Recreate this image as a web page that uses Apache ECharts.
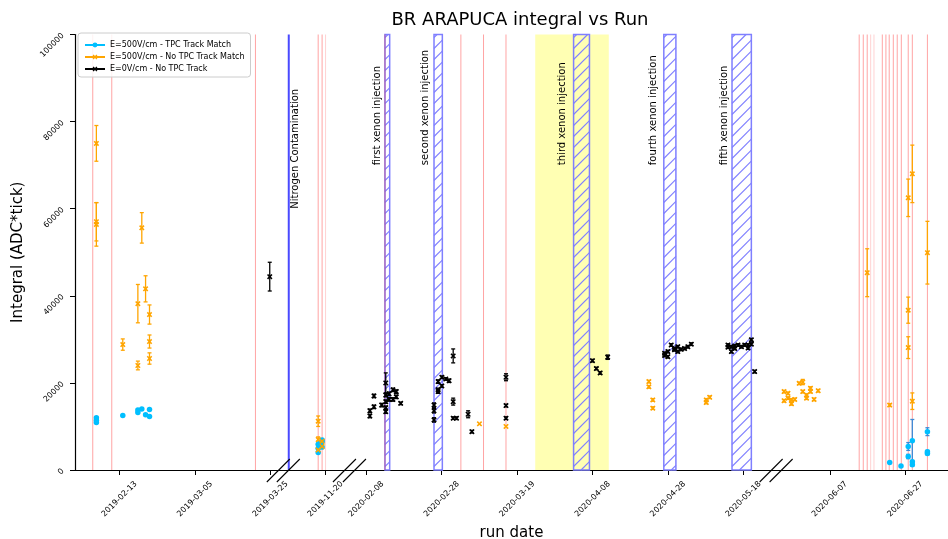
<!DOCTYPE html>
<html>
<head>
<meta charset="utf-8">
<title>BR ARAPUCA integral vs Run</title>
<script src="https://cdn.jsdelivr.net/npm/echarts@6/dist/echarts.min.js"></script>
<style>
  html, body { margin: 0; padding: 0; background: #fff; }
  #chart { width: 948px; height: 539px; }
</style>
</head>
<body>
<div id="chart"></div>
<script>
// ---- data: [run time (UTC, "YYYY-MM-DD HH"), integral (ADC*tick), error] ----
const trackMatch500 = [
  ['2019-02-06 21', 12000, 0], ['2019-02-06 21', 11400, 0], ['2019-02-06 21', 10900, 0],
  ['2019-02-13 21', 12500, 0],
  ['2019-02-17 21', 13800, 0], ['2019-02-17 21', 13200, 0],
  ['2019-02-18 22', 14000, 0],
  ['2019-02-19 22', 12700, 0],
  ['2019-02-20 23', 13900, 0], ['2019-02-20 23', 12300, 0],
  ['2019-11-18 01', 4000, 0], ['2019-11-18 01', 5000, 0], ['2019-11-18 01', 5900, 0],
  ['2019-11-18 14', 6100, 0],
  ['2019-11-19 02', 5300, 0], ['2019-11-19 02', 6500, 0], ['2019-11-19 02', 6900, 0],
  ['2020-06-22 21', 1700, 0],
  ['2020-06-25 21', 900, 0],
  ['2020-06-27 19', 5400, 900], ['2020-06-27 19', 3100, 500],
  ['2020-06-28 21', 6700, 4900], ['2020-06-28 21', 1900, 300], ['2020-06-28 21', 1200, 300],
  ['2020-07-02 21', 8800, 900], ['2020-07-02 21', 4200, 300], ['2020-07-02 21', 3800, 300]
];

const noTrack500 = [
  ['2019-02-06 21', 75000, 4100], ['2019-02-06 21', 57000, 4400], ['2019-02-06 21', 56400, 5000],
  ['2019-02-13 21', 28800, 1300],
  ['2019-02-17 21', 38200, 4400], ['2019-02-17 21', 24000, 1000],
  ['2019-02-18 22', 55600, 3500],
  ['2019-02-19 22', 41600, 3000],
  ['2019-02-20 23', 35700, 2200], ['2019-02-20 23', 29500, 1500], ['2019-02-20 23', 25600, 1300],
  ['2019-11-18 01', 11200, 1200], ['2019-11-18 01', 7000, 600], ['2019-11-18 01', 4600, 400],
  ['2019-11-19 02', 5400, 500], ['2019-11-19 02', 6600, 400],
  ['2020-03-09 00', 10600, 0],
  ['2020-03-16 01', 10000, 0],
  ['2020-04-22 22', 20300, 300], ['2020-04-22 22', 19100, 300],
  ['2020-04-23 23', 16100, 300], ['2020-04-23 23', 14200, 300],
  ['2020-05-08 03', 16100, 300], ['2020-05-08 03', 15500, 300],
  ['2020-05-09 01', 16700, 300],
  ['2020-05-25 21', 18000, 300], ['2020-05-25 21', 15900, 300],
  ['2020-05-26 22', 17600, 300], ['2020-05-26 22', 16500, 300],
  ['2020-05-27 20', 16100, 300], ['2020-05-27 20', 15200, 300],
  ['2020-05-28 17', 16200, 300],
  ['2020-05-29 21', 19900, 300],
  ['2020-05-30 20', 20200, 600], ['2020-05-30 20', 18000, 300],
  ['2020-05-31 20', 17200, 300], ['2020-05-31 20', 16500, 300],
  ['2020-06-01 21', 18800, 300], ['2020-06-01 21', 18000, 300],
  ['2020-06-02 20', 16200, 300],
  ['2020-06-03 22', 18200, 300],
  ['2020-06-16 22', 45300, 5500],
  ['2020-06-22 21', 14900, 300],
  ['2020-06-27 19', 62500, 4300], ['2020-06-27 19', 36700, 3000], ['2020-06-27 19', 28100, 2500],
  ['2020-06-28 21', 68000, 6600], ['2020-06-28 21', 15800, 1900],
  ['2020-07-02 21', 49900, 7200]
];

const zeroField = [
  ['2019-03-24 20', 44400, 3300],
  ['2020-02-08 23', 13600, 400], ['2020-02-08 23', 12400, 400],
  ['2020-02-10 01', 17000, 400], ['2020-02-10 01', 14500, 400],
  ['2020-02-12 02', 14900, 400],
  ['2020-02-13 04', 20000, 2300], ['2020-02-13 04', 17200, 400], ['2020-02-13 04', 15700, 400],
  ['2020-02-13 04', 14300, 400], ['2020-02-13 04', 13400, 400],
  ['2020-02-14 01', 17500, 400], ['2020-02-14 01', 16200, 400],
  ['2020-02-15 02', 18400, 400], ['2020-02-15 02', 16200, 400],
  ['2020-02-15 23', 18000, 400], ['2020-02-15 23', 16800, 400],
  ['2020-02-17 03', 15300, 300],
  ['2020-02-25 23', 14900, 500], ['2020-02-25 23', 13600, 500], ['2020-02-25 23', 11500, 500],
  ['2020-02-27 01', 20300, 400], ['2020-02-27 01', 18400, 400], ['2020-02-27 01', 18000, 400],
  ['2020-02-28 01', 21300, 300], ['2020-02-28 01', 19300, 300],
  ['2020-02-29 02', 20900, 300],
  ['2020-02-29 23', 20500, 400],
  ['2020-03-02 01', 26200, 1600], ['2020-03-02 01', 15700, 800], ['2020-03-02 01', 11900, 300],
  ['2020-03-02 22', 11900, 300],
  ['2020-03-06 00', 12800, 800],
  ['2020-03-07 00', 8800, 300],
  ['2020-03-16 01', 21300, 800], ['2020-03-16 01', 14800, 300], ['2020-03-16 01', 11900, 300],
  ['2020-04-07 23', 25100, 300],
  ['2020-04-09 00', 23300, 300],
  ['2020-04-10 00', 22300, 300],
  ['2020-04-12 00', 25900, 500],
  ['2020-04-27 02', 26800, 300], ['2020-04-27 02', 26300, 300],
  ['2020-04-27 23', 26000, 300], ['2020-04-27 23', 27200, 300],
  ['2020-04-28 20', 28700, 300],
  ['2020-04-29 17', 27900, 300], ['2020-04-29 17', 27600, 300],
  ['2020-04-30 14', 28300, 300], ['2020-04-30 14', 27200, 300],
  ['2020-05-01 12', 27700, 300],
  ['2020-05-02 09', 27900, 300],
  ['2020-05-03 06', 28300, 300],
  ['2020-05-04 04', 28900, 300],
  ['2020-05-13 21', 28700, 300], ['2020-05-13 21', 28200, 300],
  ['2020-05-14 19', 28300, 300], ['2020-05-14 19', 27200, 300],
  ['2020-05-15 16', 27900, 300], ['2020-05-15 16', 28500, 300],
  ['2020-05-16 13', 28700, 300],
  ['2020-05-17 11', 28300, 300],
  ['2020-05-18 08', 28700, 300],
  ['2020-05-19 05', 28700, 300], ['2020-05-19 05', 28000, 300],
  ['2020-05-20 02', 29900, 300], ['2020-05-20 02', 28900, 300],
  ['2020-05-20 23', 22600, 300]
];

// run markers, periods and notes
const runLines = ['2019-02-05 22', '2019-02-10 23', '2019-03-21 01', '2019-11-18 01', '2019-11-19 02',
  '2020-02-12 23', '2020-03-04 02', '2020-03-10 02', '2020-03-16 01',
  '2020-06-14 19', '2020-06-15 21', '2020-06-16 22', '2020-06-20 22', '2020-06-21 21', '2020-06-22 18',
  '2020-06-23 20', '2020-06-24 21', '2020-06-25 23', '2020-06-27 19', '2020-06-28 21', '2020-07-02 21'];
const faintRunLines = ['2019-11-20 00', '2020-06-17 20', '2020-06-18 17'];
const nitrogenTime = '2019-03-29 21';
const xenonPeriods = [
  ['2020-02-12 23', '2020-02-14 05'],
  ['2020-02-25 23', '2020-02-28 04'],
  ['2020-04-02 23', '2020-04-07 04'],
  ['2020-04-26 21', '2020-04-30 02'],
  ['2020-05-14 23', '2020-05-20 02']
];
const yellowPeriod = ['2020-03-23 19', '2020-04-12 07'];
const notes = [
  ['2019-03-31 18', 60000, 'Nitrogen Contamination'],
  ['2020-02-10 22', 70000, 'first xenon injection'],
  ['2020-02-23 19', 70000, 'second xenon injection'],
  ['2020-03-30 22', 70000, 'third xenon injection'],
  ['2020-04-24 04', 70000, 'fourth xenon injection'],
  ['2020-05-13 00', 70000, 'fifth xenon injection']
];
const tickLabels = ['2019-02-13', '2019-03-05', '2019-03-25', '2019-11-20', '2020-02-08', '2020-02-28',
  '2020-03-19', '2020-04-08', '2020-04-28', '2020-05-18', '2020-06-07', '2020-06-27'];

// ---- broken time axis: each segment maps real time onto a compressed day scale ----
const DAY = 86400000;
function parseTime(s) {
  const [d, h] = s.split(' ');
  const [Y, M, D] = d.split('-').map(Number);
  return Date.UTC(Y, M - 1, D) + (h ? Number(h) : 0) * 3600000;
}
const axisSegments = [
  { from: '2019-01-01', anchor: '2019-02-13', at: 0 },
  { from: '2019-10-01', anchor: '2019-11-20', at: 54.63 },
  { from: '2020-02-01', anchor: '2020-02-08', at: 65.42 },
  { from: '2020-05-22', anchor: '2020-06-07', at: 188.3 }
];
function toAxis(s) {
  const t = parseTime(s);
  let seg = axisSegments[0];
  for (const g of axisSegments) if (t >= parseTime(g.from)) seg = g;
  return seg.at + (t - parseTime(seg.anchor)) / DAY;
}
const axisBreaks = [43.56, 61.09, 174.2];
const xMin = toAxis('2019-02-01 05');
const xMax = toAxis('2020-07-08 08');
const tickValues = tickLabels.map(toAxis);

const FONT = '"DejaVu Sans", "Liberation Sans", sans-serif';
const BLUE = '#00bfff', ORANGE = '#ffa500', BLACK = '#000000';
// filled "x" marker
const X_MARK = 'path://M0,2L2,0L5,3L8,0L10,2L7,5L10,8L8,10L5,7L2,10L0,8L3,5Z';

function pointSeries(name, rows, color, symbol, size) {
  return {
    name, type: 'line', data: rows.map(r => [toAxis(r[0]), r[1]]),
    symbol, symbolSize: size, showSymbol: true, showAllSymbol: true,
    lineStyle: { opacity: 0, width: 2, color },
    itemStyle: { color, opacity: 1 },
    emphasis: { disabled: true },
    z: 6, silent: true
  };
}

function errorSeries(rows, color) {
  return {
    type: 'custom', z: 5, silent: true,
    data: rows.filter(r => r[2] > 0).map(r => [toAxis(r[0]), r[1] - r[2], r[1] + r[2]]),
    renderItem(params, api) {
      const x = api.value(0);
      const top = api.coord([x, api.value(2)]);
      const bot = api.coord([x, api.value(1)]);
      const c = 2;
      const st = { stroke: color, lineWidth: 1.3 };
      return { type: 'group', children: [
        { type: 'line', shape: { x1: top[0], y1: top[1], x2: bot[0], y2: bot[1] }, style: st },
        { type: 'line', shape: { x1: top[0] - c, y1: top[1], x2: top[0] + c, y2: top[1] }, style: st },
        { type: 'line', shape: { x1: bot[0] - c, y1: bot[1], x2: bot[0] + c, y2: bot[1] }, style: st }
      ] };
    }
  };
}

function vlineSeries(times, color, width, z) {
  return {
    type: 'custom', z, silent: true,
    data: times.map(t => [toAxis(t)]),
    renderItem(params, api) {
      const a = api.coord([api.value(0), 100000]);
      const b = api.coord([api.value(0), 0]);
      return { type: 'line', shape: { x1: a[0], y1: a[1], x2: b[0], y2: b[1] },
        style: { stroke: color, lineWidth: width } };
    }
  };
}

const option = {
  animation: false,
  backgroundColor: '#ffffff',
  textStyle: { fontFamily: FONT },
  title: {
    text: 'BR ARAPUCA integral vs Run', left: 515, top: 6, textAlign: 'center',
    textStyle: { fontFamily: FONT, fontSize: 18, fontWeight: 'normal', color: '#000' }
  },
  legend: {
    left: 78, top: 33, orient: 'vertical',
    itemWidth: 20, itemHeight: 6, itemGap: 4, padding: [8, 6, 4, 6],
    borderColor: '#cccccc', borderWidth: 1, borderRadius: 3,
    backgroundColor: 'rgba(255,255,255,0.85)',
    textStyle: { fontFamily: FONT, fontSize: 8, color: '#000' },
    lineStyle: { opacity: 1, width: 2 },
    data: ['E=500V/cm - TPC Track Match', 'E=500V/cm - No TPC Track Match', 'E=0V/cm - No TPC Track']
  },
  grid: { left: 75, right: 0, top: 34.5, bottom: 69, containLabel: false, outerBoundsMode: 'none' },
  xAxis: {
    type: 'value', min: xMin, max: xMax,
    name: 'run date', nameLocation: 'middle', nameGap: 43,
    nameTextStyle: { fontFamily: FONT, fontSize: 15, color: '#000' },
    splitLine: { show: false },
    axisLine: { onZero: false, lineStyle: { color: '#000', width: 1.2 } },
    axisTick: { customValues: tickValues, length: 5, lineStyle: { color: '#000', width: 1 } },
    axisLabel: {
      customValues: tickValues, rotate: 45, align: 'center', verticalAlign: 'middle', margin: 29,
      fontSize: 8, fontFamily: FONT, color: '#000',
      formatter(v) {
        let best = 0;
        tickValues.forEach((t, i) => { if (Math.abs(t - v) < Math.abs(tickValues[best] - v)) best = i; });
        return tickLabels[best];
      }
    }
  },
  yAxis: {
    type: 'value', min: 0, max: 100000, interval: 20000,
    name: 'Integral (ADC*tick)', nameLocation: 'middle', nameGap: 49,
    nameTextStyle: { fontFamily: FONT, fontSize: 15, color: '#000' },
    splitLine: { show: false },
    axisLine: { show: true, onZero: false, lineStyle: { color: '#000', width: 1.2 } },
    axisTick: { show: true, length: 5, lineStyle: { color: '#000', width: 1 } },
    axisLabel: { rotate: 45, fontSize: 8, fontFamily: FONT, color: '#000', margin: 12,
      formatter: v => String(v) }
  },
  series: [
    // highlighted period
    {
      type: 'custom', z: 1, silent: true,
      data: [[toAxis(yellowPeriod[0]), toAxis(yellowPeriod[1])]],
      renderItem(params, api) {
        const a = api.coord([api.value(0), 100000]);
        const b = api.coord([api.value(1), 0]);
        return { type: 'rect', shape: { x: a[0], y: a[1], width: b[0] - a[0], height: b[1] - a[1] },
          style: { fill: '#ffffb3' } };
      }
    },
    // xenon injection periods, hatched
    {
      type: 'custom', z: 2, silent: true,
      data: xenonPeriods.map(p => [toAxis(p[0]), toAxis(p[1])]),
      renderItem(params, api) {
        const a = api.coord([api.value(0), 100000]);
        const b = api.coord([api.value(1), 0]);
        const x0 = a[0], x1 = b[0], top = a[1], bottom = b[1], w = x1 - x0;
        const col = '#7f7fff';
        const kids = [{ type: 'rect', shape: { x: x0, y: top, width: w, height: bottom - top },
          style: { fill: 'none', stroke: col, lineWidth: 1.5 } }];
        for (let yb = top + 3; yb < bottom + w; yb += 11) {
          const xa = x0 + Math.max(0, yb - bottom), ya = Math.min(yb, bottom);
          const xb = x0 + Math.min(w, yb - top), ybb = Math.max(yb - w, top);
          if (xb > xa) kids.push({ type: 'line', shape: { x1: xa, y1: ya, x2: xb, y2: ybb },
            style: { stroke: col, lineWidth: 1.1 } });
        }
        return { type: 'group', children: kids };
      }
    },
    vlineSeries(faintRunLines, 'rgba(255,0,0,0.18)', 1, 3),
    vlineSeries(runLines, 'rgba(255,0,0,0.36)', 1, 3),
    vlineSeries([nitrogenTime], '#4a4aff', 2, 3),
    // notes
    {
      type: 'custom', z: 4, silent: true,
      data: notes.map(n => [toAxis(n[0]), n[1]]),
      renderItem(params, api) {
        const p = api.coord([api.value(0), api.value(1)]);
        return { type: 'text', x: p[0], y: p[1], rotation: Math.PI / 2,
          style: { text: notes[params.dataIndex][2], fill: '#000', fontSize: 10, fontFamily: 'DejaVu Sans',
            align: 'left', verticalAlign: 'middle', textAlign: 'left', textVerticalAlign: 'middle' } };
      }
    },
    errorSeries(trackMatch500, '#3d8ad6'),
    errorSeries(noTrack500, ORANGE),
    errorSeries(zeroField, BLACK),
    pointSeries('E=500V/cm - TPC Track Match', trackMatch500, BLUE, 'circle', 5.5),
    pointSeries('E=500V/cm - No TPC Track Match', noTrack500, ORANGE, X_MARK, 5.5),
    pointSeries('E=0V/cm - No TPC Track', zeroField, BLACK, X_MARK, 5.5),
    // axis break marks
    {
      type: 'custom', z: 7, silent: true, clip: false,
      data: axisBreaks.map(b => [b]),
      renderItem(params, api) {
        const p = api.coord([api.value(0), 0]);
        const kids = [-5, 5].map(dx => ({ type: 'line',
          shape: { x1: p[0] + dx - 12, y1: p[1] + 12, x2: p[0] + dx + 11, y2: p[1] - 11 },
          style: { stroke: '#000', lineWidth: 1.1 } }));
        return { type: 'group', children: kids };
      }
    }
  ]
};

const chart = echarts.init(document.getElementById('chart'), null, { renderer: 'canvas' });
chart.setOption(option);
</script>
</body>
</html>
